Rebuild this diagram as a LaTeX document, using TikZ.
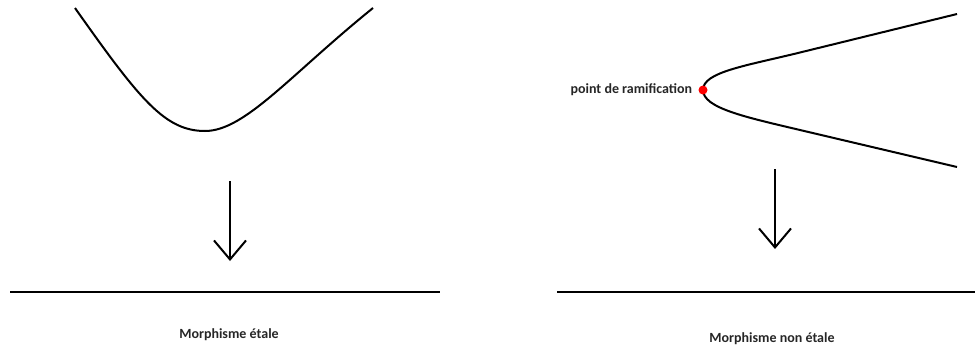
\documentclass[tikz,border=0pt]{standalone}
\usepackage{fontspec}
\setmainfont{Carlito}
\usetikzlibrary{arrows.meta}

\begin{document}
\begin{tikzpicture}[x=1pt, y=-1pt, line width=2pt,
  every node/.style={font=\bfseries\fontsize{14}{16}\selectfont, text=black!85},
  down/.style={-{Straight Barb[length=19pt,width=32pt]}}]
\useasboundingbox (0,0) rectangle (977,349);
% morphisme etale
\coordinate (l0) at (75,8);
\coordinate (lmin) at (205,131);
\coordinate (l1) at (373,8);
\draw (l0) .. controls (140,100) and (165,131) .. (lmin) .. controls (245,131) and (290,75) .. (l1);
\coordinate (la) at (230,181);
\coordinate (lb) at (230,261);
\draw[down] (la) -- (lb);
\coordinate (bl0) at (10,292);
\coordinate (bl1) at (440,292);
\draw (bl0) -- (bl1);
\node (et) at (229,335) {Morphisme étale};
% morphisme non etale
\coordinate (r0) at (957,14);
\coordinate (r1) at (957,167);
\coordinate (v) at (703,90);
\draw (r0) -- (800,52.5) .. controls (745,66) and (703,72) .. (v)
  .. controls (703,108) and (745,117) .. (800,130) -- (r1);
\node[circle, fill=red, inner sep=0pt, minimum size=9pt] (ram) at (v) {};
\node[left=1pt] (ramtxt) at (ram.west) {point de ramification};
\coordinate (ra) at (775,169);
\coordinate (rb) at (775,249);
\draw[down] (ra) -- (rb);
\coordinate (br0) at (557,292);
\coordinate (br1) at (975,292);
\draw (br0) -- (br1);
\node (net) at (772,339) {Morphisme non étale};
\end{tikzpicture}
\end{document}
